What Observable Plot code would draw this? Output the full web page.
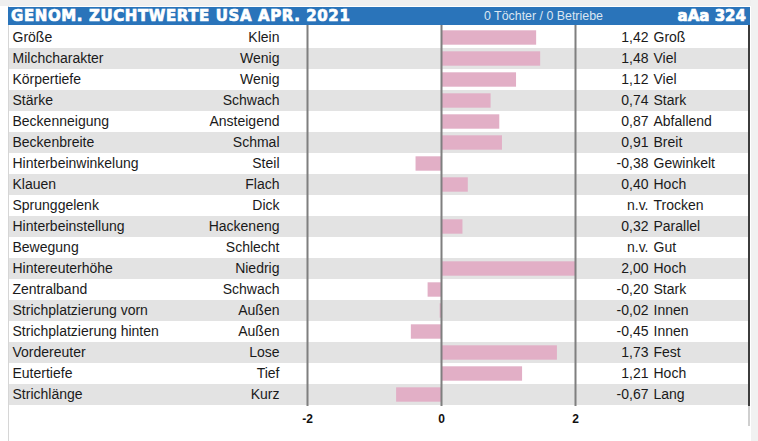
<!DOCTYPE html>
<html>
<head>
<meta charset="utf-8">
<script src="https://cdn.jsdelivr.net/npm/d3@7"></script>
<script src="https://cdn.jsdelivr.net/npm/@observablehq/plot@0.6"></script>
<style>
  html, body { margin: 0; padding: 0; background: #ffffff; }
  body { width: 758px; height: 441px; position: relative; overflow: hidden; font-family: "Liberation Sans", Arial, sans-serif; }
  #topstrip { position: absolute; left: 0; top: 0; width: 758px; height: 6px; background: #efefef; }
  #rightstrip { position: absolute; left: 751px; top: 0; width: 7px; height: 441px; background: #f1f1f1; }
  #leftline { position: absolute; left: 8px; top: 6px; width: 1px; height: 435px; background: #d6d6d6; }
  #wrap { position: absolute; left: 8px; top: 7px; width: 742px; }
  #title { height: 18px; background: #2a74ba; color: #fff; position: relative; }
  #title .main { position: absolute; left: 3px; top: 0px; font-family: "DejaVu Sans", sans-serif; font-weight: bold; font-size: 15px; line-height: 18px; letter-spacing: 0.6px; -webkit-text-stroke: 0.7px #fff; }
  #title .sub { position: absolute; left: 476px; top: 0px; font-size: 12.4px; line-height: 18px; color: #dbe6f2; }
  #title .code { position: absolute; right: 4px; top: 0px; font-family: "DejaVu Sans", sans-serif; font-weight: bold; font-size: 15px; line-height: 18px; -webkit-text-stroke: 0.7px #fff; }
  #chart svg { display: block; }
  #rborder { position: absolute; left: 748px; top: 25px; width: 2px; height: 381px; background: #3c3c3c; }
  #rborder2 { position: absolute; left: 748px; top: 406px; width: 2px; height: 20px; background: #cfcfcf; }
</style>
</head>
<body>
<div id="topstrip"></div>
<div id="rightstrip"></div>
<div id="leftline"></div>
<div id="wrap">
  <div id="title"><span class="main">GENOM. ZUCHTWERTE USA APR. 2021</span><span class="sub">0 Töchter / 0 Betriebe</span><span class="code">aAa 324</span></div>
  <div id="chart"></div>
</div>
<div id="rborder"></div>
<div id="rborder2"></div>
<script>
const traits = ["Größe","Milchcharakter","Körpertiefe","Stärke","Beckenneigung","Beckenbreite","Hinterbeinwinkelung","Klauen","Sprunggelenk","Hinterbeinstellung","Bewegung","Hintereuterhöhe","Zentralband","Strichplatzierung vorn","Strichplatzierung hinten","Vordereuter","Eutertiefe","Strichlänge"];
const lowLabels = ["Klein","Wenig","Wenig","Schwach","Ansteigend","Schmal","Steil","Flach","Dick","Hackeneng","Schlecht","Niedrig","Schwach","Außen","Außen","Lose","Tief","Kurz"];
const highLabels = ["Groß","Viel","Viel","Stark","Abfallend","Breit","Gewinkelt","Hoch","Trocken","Parallel","Gut","Hoch","Stark","Innen","Innen","Fest","Hoch","Lang"];
const values = [1.42,1.48,1.12,0.74,0.87,0.91,-0.38,0.40,null,0.32,null,2.00,-0.20,-0.02,-0.45,1.73,1.21,-0.67];
const xTicks = [-2,0,2];

const rows = traits.map((t,i) => ({
  trait: t, low: lowLabels[i], high: highLabels[i], value: values[i], idx: i,
  valueText: values[i] == null ? "n.v." : values[i].toFixed(2).replace(".", ",")
}));
const barRows = rows.filter(d => d.value != null);
const stripeRows = rows.filter(d => d.idx % 2 === 1);

const W = 742, H = 416;
const fs = 14;
const plot = Plot.plot({
  width: W, height: H,
  marginLeft: 299, marginRight: 175, marginTop: 0, marginBottom: 35,
  style: { fontFamily: '"Liberation Sans", Arial, sans-serif', background: "transparent", overflow: "visible" },
  x: { domain: [-2, 2], label: null },
  y: { domain: traits, padding: 0, axis: null },
  marks: [
    Plot.barX(stripeRows, { y: "trait", x1: -2, x2: 2, fill: "#e3e3e3", insetLeft: -298, insetRight: -173 }),
    Plot.barX(barRows, { y: "trait", x: "value", fill: "#e2afc6", insetTop: 3.3, insetBottom: 3.3 }),
    Plot.ruleX(xTicks, { stroke: "#7f7f7f", strokeWidth: 2 }),
    Plot.text(rows, { y: "trait", text: "trait", frameAnchor: "left", textAnchor: "start", dx: -295, fontSize: fs, fill: "#1a1a1a" }),
    Plot.text(rows, { y: "trait", text: "low", frameAnchor: "left", textAnchor: "end", dx: -28, fontSize: fs, fill: "#1a1a1a" }),
    Plot.text(rows, { y: "trait", text: "valueText", frameAnchor: "right", textAnchor: "end", dx: 73, fontSize: fs, fill: "#1a1a1a" }),
    Plot.text(rows, { y: "trait", text: "high", frameAnchor: "right", textAnchor: "start", dx: 78, fontSize: fs, fill: "#1a1a1a" }),
    Plot.axisX(xTicks, { label: null, tickSize: 0, tickPadding: 8, fontSize: 12, fontWeight: "bold", fill: "#111", tickFormat: d => d < 0 ? "-" + Math.abs(d) : String(d) })
  ]
});
document.getElementById("chart").appendChild(plot);
</script>
</body>
</html>
